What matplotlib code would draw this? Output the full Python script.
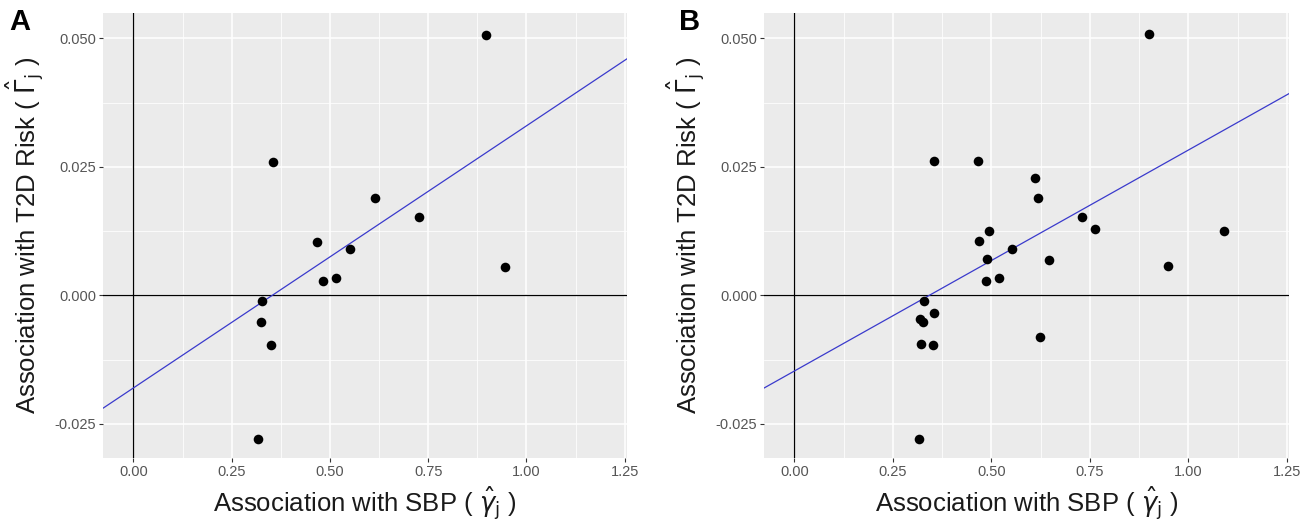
import numpy as np
import matplotlib
matplotlib.use("Agg")
import matplotlib.pyplot as plt
from matplotlib.ticker import MultipleLocator

plt.rcParams['font.family'] = ['Liberation Sans', 'DejaVu Sans']
plt.rcParams['mathtext.fontset'] = 'dejavusans'

# panel A: 13 variants
a_x = [0.897, 0.355, 0.615, 0.727, 0.468, 0.551, 0.945, 0.483, 0.516, 0.328, 0.324, 0.351, 0.316]
a_y = [0.0507, 0.0260, 0.0189, 0.0153, 0.0104, 0.0090, 0.0056, 0.0028, 0.0033, -0.0011, -0.0052, -0.0097, -0.0279]
a_fit = (-0.0180, 0.0510)  # intercept, slope

# panel B: 24 variants
b_x = [0.900, 0.355, 0.467, 0.611, 0.618, 0.729, 0.762, 1.091, 0.494, 0.469, 0.553, 0.488,
       0.646, 0.947, 0.485, 0.518, 0.329, 0.353, 0.319, 0.325, 0.623, 0.320, 0.352, 0.317]
b_y = [0.0508, 0.0261, 0.0261, 0.0229, 0.0190, 0.0153, 0.0129, 0.0125, 0.0125, 0.0105, 0.0091, 0.0070,
       0.0068, 0.0057, 0.0029, 0.0034, -0.0011, -0.0034, -0.0045, -0.0052, -0.0081, -0.0094, -0.0097, -0.0279]
b_fit = (-0.0147, 0.0430)

x_ticks = [0.00, 0.25, 0.50, 0.75, 1.00, 1.25]
y_ticks = [-0.025, 0.000, 0.025, 0.050]

xlabel = r'Association with SBP ( $\hat{\gamma}_\mathrm{j}$ )'
ylabel = r'Association with T2D Risk ( $\hat{\Gamma}_\mathrm{j}$ )'

fig = plt.figure(figsize=(13.13, 5.29), dpi=100)
ax_a = fig.add_axes([0.0787, 0.1336, 0.3986, 0.8413])
ax_b = fig.add_axes([0.5821, 0.1336, 0.3996, 0.8413])


def draw(ax, xs, ys, fit, letter, lx):
    ax.set_facecolor('#EBEBEB')
    for s in ax.spines.values():
        s.set_visible(False)
    ax.set_xlim(-0.0766, 1.255)
    ax.set_ylim(-0.0317, 0.0549)
    ax.set_xticks(x_ticks)
    ax.set_yticks(y_ticks)
    ax.set_xticklabels(['%.2f' % v for v in x_ticks])
    ax.set_yticklabels(['%.3f' % v for v in y_ticks])
    ax.xaxis.set_minor_locator(MultipleLocator(0.125))
    ax.yaxis.set_minor_locator(MultipleLocator(0.0125))
    ax.grid(which='major', color='white', lw=1.1)
    ax.grid(which='minor', color='white', lw=0.55)
    ax.set_axisbelow(True)
    ax.tick_params(which='major', length=3, width=0.8, color='#333333',
                   labelcolor='#555555', labelsize=10.5, pad=2)
    ax.tick_params(which='minor', length=0)
    ax.axhline(0, color='black', lw=0.9, zorder=2)
    ax.axvline(0, color='black', lw=0.9, zorder=2)
    ax.axline((0, fit[0]), slope=fit[1], color='#3a3acc', lw=0.9, zorder=3)
    ax.scatter(xs, ys, s=48, color='black', zorder=4, linewidths=0)
    ax.set_xlabel(xlabel, fontsize=18.5, color='#1a1a1a', labelpad=4)
    ax.set_ylabel(ylabel, fontsize=18.5, color='#1a1a1a', labelpad=6)
    fig.text(lx, 0.985, letter, fontsize=21, fontweight='bold', va='top', ha='left')


draw(ax_a, a_x, a_y, a_fit, 'A', 0.007)
draw(ax_b, b_x, b_y, b_fit, 'B', 0.517)

fig.savefig('out.png', dpi=100)
